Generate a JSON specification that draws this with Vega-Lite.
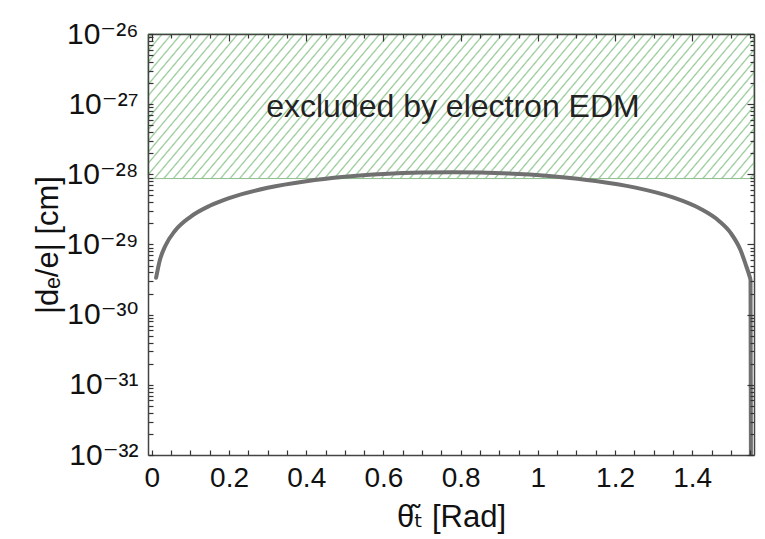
{
 "$schema": "https://vega.github.io/schema/vega-lite/v6.json",
 "width": 606,
 "height": 421,
 "autosize": {"type": "none"},
 "padding": {"left": 148, "top": 34, "right": 11, "bottom": 84},
 "background": "#ffffff",
 "config": {
  "view": {"stroke": null},
  "axis": {"domainColor": "#444", "domainWidth": 1.5, "ticks": true, "tickColor": "#333", "tickWidth": 1.2, "grid": false, "labelFont": "Liberation Sans, DejaVu Sans", "labelColor": "#111", "titleFont": "Liberation Sans, DejaVu Sans", "titleColor": "#111", "titleFontWeight": "normal", "labelOverlap": false, "labelFlush": false}
 },
 "datasets": {
  "curve": [
   {"theta": 0.011, "d": 3.36e-30},
   {"theta": 0.02, "d": 5.78e-30},
   {"theta": 0.035, "d": 9.61e-30},
   {"theta": 0.06, "d": 1.57e-29},
   {"theta": 0.1, "d": 2.48e-29},
   {"theta": 0.15, "d": 3.56e-29},
   {"theta": 0.2, "d": 4.58e-29},
   {"theta": 0.3, "d": 6.43e-29},
   {"theta": 0.4, "d": 7.98e-29},
   {"theta": 0.5, "d": 9.21e-29},
   {"theta": 0.6, "d": 1.009e-28},
   {"theta": 0.7, "d": 1.06e-28},
   {"theta": 0.78, "d": 1.072e-28},
   {"theta": 0.85, "d": 1.06e-28},
   {"theta": 0.95, "d": 1.01e-28},
   {"theta": 1.05, "d": 9.27e-29},
   {"theta": 1.15, "d": 8.05e-29},
   {"theta": 1.25, "d": 6.52e-29},
   {"theta": 1.35, "d": 4.69e-29},
   {"theta": 1.42, "d": 3.25e-29},
   {"theta": 1.47, "d": 2.15e-29},
   {"theta": 1.5, "d": 1.45e-29},
   {"theta": 1.525, "d": 8.35e-30},
   {"theta": 1.54, "d": 4.9e-30},
   {"theta": 1.548, "d": 3.6e-30},
   {"theta": 1.551, "d": 3.1e-30},
   {"theta": 1.552, "d": 1e-32}
  ],
  "region": [{"xmin": -0.01, "xmax": 1.56, "top": 1e-26, "limit": 8.7e-29}],
  "note": [{"x": 0.78, "y": 1e-27, "label": "excluded by electron EDM"}]
 },
 "layer": [
  {
   "data": {"name": "region"},
   "mark": {"type": "rect", "stroke": "#8cbf8c", "strokeWidth": 1,
    "fill": {"gradient": "linear", "x1": 0, "y1": 0, "x2": 1.154, "y2": 0.231, "stops": [
{"offset":0.0043,"color":"#fff"},{"offset":0.0065,"color":"#94c894"},{"offset":0.0087,"color":"#fff"},
{"offset":0.0173,"color":"#fff"},{"offset":0.0195,"color":"#94c894"},{"offset":0.0217,"color":"#fff"},
{"offset":0.0303,"color":"#fff"},{"offset":0.0325,"color":"#94c894"},{"offset":0.0347,"color":"#fff"},
{"offset":0.0433,"color":"#fff"},{"offset":0.0455,"color":"#94c894"},{"offset":0.0477,"color":"#fff"},
{"offset":0.0563,"color":"#fff"},{"offset":0.0585,"color":"#94c894"},{"offset":0.0607,"color":"#fff"},
{"offset":0.0693,"color":"#fff"},{"offset":0.0715,"color":"#94c894"},{"offset":0.0737,"color":"#fff"},
{"offset":0.0823,"color":"#fff"},{"offset":0.0845,"color":"#94c894"},{"offset":0.0867,"color":"#fff"},
{"offset":0.0953,"color":"#fff"},{"offset":0.0975,"color":"#94c894"},{"offset":0.0997,"color":"#fff"},
{"offset":0.1083,"color":"#fff"},{"offset":0.1105,"color":"#94c894"},{"offset":0.1127,"color":"#fff"},
{"offset":0.1213,"color":"#fff"},{"offset":0.1235,"color":"#94c894"},{"offset":0.1257,"color":"#fff"},
{"offset":0.1343,"color":"#fff"},{"offset":0.1365,"color":"#94c894"},{"offset":0.1387,"color":"#fff"},
{"offset":0.1473,"color":"#fff"},{"offset":0.1495,"color":"#94c894"},{"offset":0.1517,"color":"#fff"},
{"offset":0.1603,"color":"#fff"},{"offset":0.1625,"color":"#94c894"},{"offset":0.1647,"color":"#fff"},
{"offset":0.1733,"color":"#fff"},{"offset":0.1755,"color":"#94c894"},{"offset":0.1777,"color":"#fff"},
{"offset":0.1863,"color":"#fff"},{"offset":0.1885,"color":"#94c894"},{"offset":0.1907,"color":"#fff"},
{"offset":0.1993,"color":"#fff"},{"offset":0.2015,"color":"#94c894"},{"offset":0.2037,"color":"#fff"},
{"offset":0.2123,"color":"#fff"},{"offset":0.2145,"color":"#94c894"},{"offset":0.2167,"color":"#fff"},
{"offset":0.2253,"color":"#fff"},{"offset":0.2275,"color":"#94c894"},{"offset":0.2297,"color":"#fff"},
{"offset":0.2383,"color":"#fff"},{"offset":0.2405,"color":"#94c894"},{"offset":0.2427,"color":"#fff"},
{"offset":0.2513,"color":"#fff"},{"offset":0.2535,"color":"#94c894"},{"offset":0.2557,"color":"#fff"},
{"offset":0.2643,"color":"#fff"},{"offset":0.2665,"color":"#94c894"},{"offset":0.2687,"color":"#fff"},
{"offset":0.2773,"color":"#fff"},{"offset":0.2795,"color":"#94c894"},{"offset":0.2817,"color":"#fff"},
{"offset":0.2903,"color":"#fff"},{"offset":0.2925,"color":"#94c894"},{"offset":0.2947,"color":"#fff"},
{"offset":0.3033,"color":"#fff"},{"offset":0.3055,"color":"#94c894"},{"offset":0.3077,"color":"#fff"},
{"offset":0.3163,"color":"#fff"},{"offset":0.3185,"color":"#94c894"},{"offset":0.3207,"color":"#fff"},
{"offset":0.3293,"color":"#fff"},{"offset":0.3315,"color":"#94c894"},{"offset":0.3337,"color":"#fff"},
{"offset":0.3423,"color":"#fff"},{"offset":0.3445,"color":"#94c894"},{"offset":0.3467,"color":"#fff"},
{"offset":0.3553,"color":"#fff"},{"offset":0.3575,"color":"#94c894"},{"offset":0.3597,"color":"#fff"},
{"offset":0.3683,"color":"#fff"},{"offset":0.3705,"color":"#94c894"},{"offset":0.3727,"color":"#fff"},
{"offset":0.3813,"color":"#fff"},{"offset":0.3835,"color":"#94c894"},{"offset":0.3857,"color":"#fff"},
{"offset":0.3943,"color":"#fff"},{"offset":0.3965,"color":"#94c894"},{"offset":0.3987,"color":"#fff"},
{"offset":0.4073,"color":"#fff"},{"offset":0.4095,"color":"#94c894"},{"offset":0.4117,"color":"#fff"},
{"offset":0.4203,"color":"#fff"},{"offset":0.4225,"color":"#94c894"},{"offset":0.4247,"color":"#fff"},
{"offset":0.4333,"color":"#fff"},{"offset":0.4355,"color":"#94c894"},{"offset":0.4377,"color":"#fff"},
{"offset":0.4463,"color":"#fff"},{"offset":0.4485,"color":"#94c894"},{"offset":0.4507,"color":"#fff"},
{"offset":0.4593,"color":"#fff"},{"offset":0.4615,"color":"#94c894"},{"offset":0.4637,"color":"#fff"},
{"offset":0.4723,"color":"#fff"},{"offset":0.4745,"color":"#94c894"},{"offset":0.4767,"color":"#fff"},
{"offset":0.4853,"color":"#fff"},{"offset":0.4875,"color":"#94c894"},{"offset":0.4897,"color":"#fff"},
{"offset":0.4983,"color":"#fff"},{"offset":0.5005,"color":"#94c894"},{"offset":0.5027,"color":"#fff"},
{"offset":0.5113,"color":"#fff"},{"offset":0.5135,"color":"#94c894"},{"offset":0.5157,"color":"#fff"},
{"offset":0.5243,"color":"#fff"},{"offset":0.5265,"color":"#94c894"},{"offset":0.5287,"color":"#fff"},
{"offset":0.5373,"color":"#fff"},{"offset":0.5395,"color":"#94c894"},{"offset":0.5417,"color":"#fff"},
{"offset":0.5503,"color":"#fff"},{"offset":0.5525,"color":"#94c894"},{"offset":0.5547,"color":"#fff"},
{"offset":0.5633,"color":"#fff"},{"offset":0.5655,"color":"#94c894"},{"offset":0.5677,"color":"#fff"},
{"offset":0.5763,"color":"#fff"},{"offset":0.5785,"color":"#94c894"},{"offset":0.5807,"color":"#fff"},
{"offset":0.5893,"color":"#fff"},{"offset":0.5915,"color":"#94c894"},{"offset":0.5937,"color":"#fff"},
{"offset":0.6023,"color":"#fff"},{"offset":0.6045,"color":"#94c894"},{"offset":0.6067,"color":"#fff"},
{"offset":0.6153,"color":"#fff"},{"offset":0.6175,"color":"#94c894"},{"offset":0.6197,"color":"#fff"},
{"offset":0.6283,"color":"#fff"},{"offset":0.6305,"color":"#94c894"},{"offset":0.6327,"color":"#fff"},
{"offset":0.6413,"color":"#fff"},{"offset":0.6435,"color":"#94c894"},{"offset":0.6457,"color":"#fff"},
{"offset":0.6543,"color":"#fff"},{"offset":0.6565,"color":"#94c894"},{"offset":0.6587,"color":"#fff"},
{"offset":0.6673,"color":"#fff"},{"offset":0.6695,"color":"#94c894"},{"offset":0.6717,"color":"#fff"},
{"offset":0.6803,"color":"#fff"},{"offset":0.6825,"color":"#94c894"},{"offset":0.6847,"color":"#fff"},
{"offset":0.6933,"color":"#fff"},{"offset":0.6955,"color":"#94c894"},{"offset":0.6977,"color":"#fff"},
{"offset":0.7063,"color":"#fff"},{"offset":0.7085,"color":"#94c894"},{"offset":0.7107,"color":"#fff"},
{"offset":0.7193,"color":"#fff"},{"offset":0.7215,"color":"#94c894"},{"offset":0.7237,"color":"#fff"},
{"offset":0.7323,"color":"#fff"},{"offset":0.7345,"color":"#94c894"},{"offset":0.7367,"color":"#fff"},
{"offset":0.7453,"color":"#fff"},{"offset":0.7475,"color":"#94c894"},{"offset":0.7497,"color":"#fff"},
{"offset":0.7583,"color":"#fff"},{"offset":0.7605,"color":"#94c894"},{"offset":0.7627,"color":"#fff"},
{"offset":0.7713,"color":"#fff"},{"offset":0.7735,"color":"#94c894"},{"offset":0.7757,"color":"#fff"},
{"offset":0.7843,"color":"#fff"},{"offset":0.7865,"color":"#94c894"},{"offset":0.7887,"color":"#fff"},
{"offset":0.7973,"color":"#fff"},{"offset":0.7995,"color":"#94c894"},{"offset":0.8017,"color":"#fff"},
{"offset":0.8103,"color":"#fff"},{"offset":0.8125,"color":"#94c894"},{"offset":0.8147,"color":"#fff"},
{"offset":0.8233,"color":"#fff"},{"offset":0.8255,"color":"#94c894"},{"offset":0.8277,"color":"#fff"},
{"offset":0.8363,"color":"#fff"},{"offset":0.8385,"color":"#94c894"},{"offset":0.8407,"color":"#fff"},
{"offset":0.8493,"color":"#fff"},{"offset":0.8515,"color":"#94c894"},{"offset":0.8537,"color":"#fff"},
{"offset":0.8623,"color":"#fff"},{"offset":0.8645,"color":"#94c894"},{"offset":0.8667,"color":"#fff"},
{"offset":0.8753,"color":"#fff"},{"offset":0.8775,"color":"#94c894"},{"offset":0.8797,"color":"#fff"},
{"offset":0.8883,"color":"#fff"},{"offset":0.8905,"color":"#94c894"},{"offset":0.8927,"color":"#fff"},
{"offset":0.9013,"color":"#fff"},{"offset":0.9035,"color":"#94c894"},{"offset":0.9057,"color":"#fff"},
{"offset":0.9143,"color":"#fff"},{"offset":0.9165,"color":"#94c894"},{"offset":0.9187,"color":"#fff"},
{"offset":0.9273,"color":"#fff"},{"offset":0.9295,"color":"#94c894"},{"offset":0.9317,"color":"#fff"},
{"offset":0.9403,"color":"#fff"},{"offset":0.9425,"color":"#94c894"},{"offset":0.9447,"color":"#fff"},
{"offset":0.9533,"color":"#fff"},{"offset":0.9555,"color":"#94c894"},{"offset":0.9577,"color":"#fff"},
{"offset":0.9663,"color":"#fff"},{"offset":0.9685,"color":"#94c894"},{"offset":0.9707,"color":"#fff"},
{"offset":0.9793,"color":"#fff"},{"offset":0.9815,"color":"#94c894"},{"offset":0.9837,"color":"#fff"},
{"offset":0.9923,"color":"#fff"},{"offset":0.9945,"color":"#94c894"},{"offset":0.9967,"color":"#fff"}
    ]}
   },
   "encoding": {
    "x": {"field": "xmin", "type": "quantitative", "scale": {"domain": [-0.01, 1.56], "nice": false, "zero": false},
     "axis": {"orient": "top", "labels": false, "title": null, "ticks": true, "zindex": 1,
      "values": [0,0.05,0.1,0.15,0.2,0.25,0.3,0.35,0.4,0.45,0.5,0.55,0.6,0.65,0.7,0.75,0.8,0.85,0.9,0.95,1,1.05,1.1,1.15,1.2,1.25,1.3,1.35,1.4,1.45,1.5,1.55],
      "tickSize": {"condition": {"test": "abs(datum.value*5 - round(datum.value*5)) < 0.001", "value": -7}, "value": -4}}},
    "x2": {"field": "xmax"},
    "y": {"field": "top", "type": "quantitative", "scale": {"type": "log", "domain": [1e-32, 1e-26], "nice": false},
     "axis": {"orient": "right", "labels": false, "title": null, "ticks": true, "zindex": 1,
      "values": [1e-32,2e-32,3e-32,4e-32,5e-32,6e-32,7e-32,8e-32,9e-32,1e-31,2e-31,3e-31,4e-31,5e-31,6e-31,7e-31,8e-31,9e-31,1e-30,2e-30,3e-30,4e-30,5e-30,6e-30,7e-30,8e-30,9e-30,1e-29,2e-29,3e-29,4e-29,5e-29,6e-29,7e-29,8e-29,9e-29,1e-28,2e-28,3e-28,4e-28,5e-28,6e-28,7e-28,8e-28,9e-28,1e-27,2e-27,3e-27,4e-27,5e-27,6e-27,7e-27,8e-27,9e-27,1e-26],
      "tickSize": {"condition": {"test": "abs(log(datum.value)/LN10 - round(log(datum.value)/LN10)) < 0.001", "value": -7}, "value": -4}}},
    "y2": {"field": "limit"}
   }
  },
  {
   "data": {"name": "note"},
   "mark": {"type": "text", "fontSize": 32, "font": "Liberation Sans", "color": "#222", "baseline": "middle", "align": "center", "dy": 3},
   "encoding": {
    "x": {"field": "x", "type": "quantitative", "axis": null},
    "y": {"field": "y", "type": "quantitative", "scale": {"type": "log"}, "axis": null},
    "text": {"field": "label"}
   }
  },
  {
   "data": {"name": "curve"},
   "mark": {"type": "line", "color": "#707070", "strokeWidth": 4, "strokeCap": "round", "strokeJoin": "round", "interpolate": "monotone", "clip": true},
   "encoding": {
    "x": {"field": "theta", "type": "quantitative", "scale": {"domain": [-0.01, 1.56], "nice": false, "zero": false},
     "axis": {"orient": "bottom", "title": "θₜ̃ [Rad]", "titleFontSize": 31, "titlePadding": 10, "labelFontSize": 28, "labelPadding": 14, "ticks": true, "tickSize": -5, "zindex": 1,
      "values": [0,0.05,0.1,0.15,0.2,0.25,0.3,0.35,0.4,0.45,0.5,0.55,0.6,0.65,0.7,0.75,0.8,0.85,0.9,0.95,1,1.05,1.1,1.15,1.2,1.25,1.3,1.35,1.4,1.45,1.5,1.55],
      "labelExpr": "abs(datum.value*5 - round(datum.value*5)) < 0.001 ? format(datum.value, '~g') : ''"}},
    "y": {"field": "d", "type": "quantitative", "scale": {"type": "log", "domain": [1e-32, 1e-26], "nice": false},
     "axis": {"orient": "left", "title": "|dₑ/e| [cm]", "titleFontSize": 31, "titlePadding": 1, "labelFontSize": 30, "labelPadding": 15, "ticks": true, "tickSize": -5, "zindex": 1,
      "values": [1e-32,2e-32,3e-32,4e-32,5e-32,6e-32,7e-32,8e-32,9e-32,1e-31,2e-31,3e-31,4e-31,5e-31,6e-31,7e-31,8e-31,9e-31,1e-30,2e-30,3e-30,4e-30,5e-30,6e-30,7e-30,8e-30,9e-30,1e-29,2e-29,3e-29,4e-29,5e-29,6e-29,7e-29,8e-29,9e-29,1e-28,2e-28,3e-28,4e-28,5e-28,6e-28,7e-28,8e-28,9e-28,1e-27,2e-27,3e-27,4e-27,5e-27,6e-27,7e-27,8e-27,9e-27,1e-26],
      "labelExpr": "abs(log(datum.value)/LN10 - round(log(datum.value)/LN10)) < 0.001 ? ['10⁻³²','10⁻³¹','10⁻³⁰','10⁻²⁹','10⁻²⁸','10⁻²⁷','10⁻²⁶'][round(log(datum.value)/LN10)+32] : ''"}}
   }
  }
 ],
 "resolve": {"axis": {"x": "independent", "y": "independent"}}
}
